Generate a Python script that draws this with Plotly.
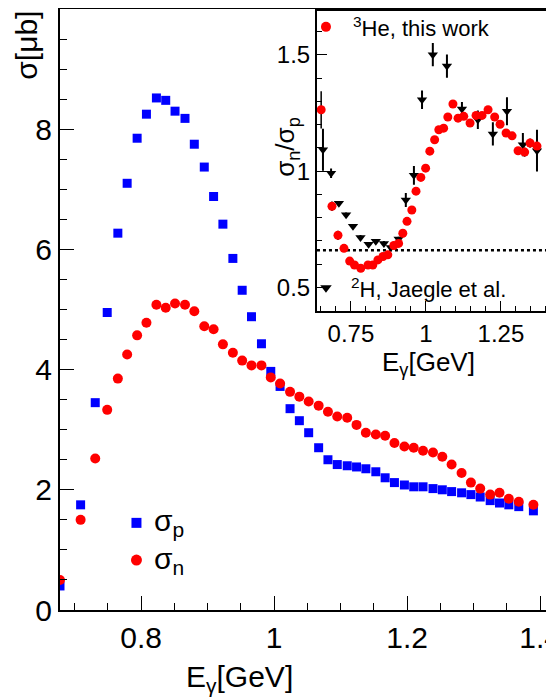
import plotly.graph_objects as go

# main panel
e_p = [0.678,0.709,0.731,0.749,0.765,0.779,0.794,0.808,0.823,0.837,0.851,0.866,0.880,0.895,0.909,0.923,0.938,0.952,0.966,0.981,0.995,1.009,1.024,1.038,1.052,1.067,1.081,1.095,1.110,1.124,1.138,1.153,1.167,1.181,1.196,1.210,1.224,1.239,1.253,1.267,1.282,1.296,1.310,1.325,1.339,1.353,1.368,1.390]
sig_p = [0.40,1.75,3.45,4.95,6.27,7.10,7.85,8.25,8.52,8.48,8.30,8.18,7.75,7.37,6.88,6.42,5.85,5.32,4.88,4.43,3.97,3.72,3.35,3.15,2.95,2.70,2.50,2.42,2.40,2.38,2.35,2.30,2.20,2.12,2.08,2.05,2.05,2.02,2.00,1.97,1.95,1.92,1.88,1.82,1.78,1.75,1.72,1.65]
sig_n = [0.50,1.50,2.52,3.33,3.85,4.25,4.57,4.78,5.08,5.03,5.10,5.08,4.97,4.72,4.67,4.42,4.28,4.15,4.07,4.07,3.87,3.77,3.63,3.55,3.47,3.40,3.30,3.22,3.20,3.08,2.95,2.92,2.90,2.78,2.72,2.70,2.65,2.62,2.55,2.42,2.28,2.12,2.02,1.92,1.95,1.85,1.80,1.75]

# inset
r_e = [0.651,0.687,0.707,0.727,0.746,0.762,0.783,0.807,0.823,0.840,0.857,0.873,0.893,0.909,0.923,0.937,0.953,0.967,0.983,0.999,1.013,1.029,1.043,1.059,1.073,1.090,1.107,1.126,1.147,1.167,1.187,1.207,1.229,1.247,1.267,1.287,1.307,1.329,1.347,1.370]
r_he = [1.264,0.849,0.724,0.668,0.613,0.596,0.582,0.596,0.596,0.618,0.633,0.640,0.680,0.689,0.733,0.784,0.833,0.914,0.973,1.013,1.086,1.135,1.178,1.185,1.233,1.289,1.228,1.236,1.207,1.240,1.240,1.264,1.233,1.202,1.164,1.152,1.088,1.082,1.121,1.108]
r_he_err = [0.08,0.02,0.02,0.01,0.01,0.01,0.01,0.01,0.01,0.01,0.01,0.01,0.01,0.01,0.01,0.01,0.01,0.01,0.01,0.01,0.01,0.01,0.01,0.01,0.01,0.01,0.01,0.01,0.01,0.01,0.01,0.01,0.01,0.01,0.01,0.01,0.01,0.02,0.02,0.02]
d_e = [0.657,0.684,0.710,0.734,0.757,0.782,0.809,0.833,0.860,0.883,0.909,0.933,0.960,0.987,1.023,1.070,1.120,1.173,1.223,1.270,1.323,1.370,1.423]
d_r = [1.092,0.991,0.862,0.812,0.763,0.715,0.685,0.698,0.689,0.672,0.708,0.876,0.982,1.307,1.501,1.452,1.268,1.221,1.160,1.258,1.114,1.088,1.100]
d_err = [0.09,0.02,0.01,0.01,0.01,0.01,0.01,0.01,0.01,0.01,0.01,0.03,0.04,0.04,0.05,0.05,0.03,0.04,0.05,0.06,0.05,0.09,0.07]
ref_line = 0.66

fig = go.Figure()
fig.add_trace(go.Scatter(x=e_p, y=sig_p, mode="markers", marker=dict(symbol="square", size=9, color="#0000ff"), xaxis="x", yaxis="y"))
fig.add_trace(go.Scatter(x=e_p, y=sig_n, mode="markers", marker=dict(symbol="circle", size=10, color="#ff0000"), xaxis="x", yaxis="y"))
fig.add_trace(go.Scatter(x=[0.793], y=[1.45], mode="markers", marker=dict(symbol="square", size=10, color="#0000ff"), xaxis="x", yaxis="y"))
fig.add_trace(go.Scatter(x=[0.793], y=[0.83], mode="markers", marker=dict(symbol="circle", size=11, color="#ff0000"), xaxis="x", yaxis="y"))

fig.add_trace(go.Scatter(x=[0.637, 1.44], y=[ref_line, ref_line], mode="lines", line=dict(color="black", dash="dot", width=2.5), xaxis="x2", yaxis="y2"))
fig.add_trace(go.Scatter(x=d_e, y=d_r, mode="markers", marker=dict(symbol="triangle-down", size=9, color="black"),
                         error_y=dict(array=d_err, color="black", thickness=2, width=0), xaxis="x2", yaxis="y2"))
fig.add_trace(go.Scatter(x=r_e, y=r_he, mode="markers", marker=dict(symbol="circle", size=9, color="#ff0000"),
                         error_y=dict(array=r_he_err, color="black", thickness=1.5, width=0), xaxis="x2", yaxis="y2"))
fig.add_trace(go.Scatter(x=[0.667], y=[1.621], mode="markers", marker=dict(symbol="circle", size=10, color="#ff0000"), xaxis="x2", yaxis="y2"))
fig.add_trace(go.Scatter(x=[0.667], y=[0.498], mode="markers", marker=dict(symbol="triangle-down", size=10, color="black"), xaxis="x2", yaxis="y2"))

ax = dict(showline=True, linecolor="black", linewidth=2, mirror=True, ticks="inside", tickcolor="black",
          showgrid=False, zeroline=False, automargin=False)
fig.update_layout(
    width=554, height=698, showlegend=False,
    margin=dict(l=52, r=4, t=1, b=96),
    paper_bgcolor="white", plot_bgcolor="white",
    font=dict(family="Liberation Sans, Arial", color="black"),
    xaxis=dict(ax, domain=[0, 1], range=[0.678, 1.427], tickvals=[0.8, 1, 1.2, 1.4], ticktext=["0.8", "1", "1.2", "1.4"],
               ticklen=14, tickfont=dict(size=30), minor=dict(dtick=0.05, ticks="inside", ticklen=7, tickcolor="black")),
    yaxis=dict(ax, domain=[0, 1], range=[0, 10.0], tickvals=[0, 2, 4, 6, 8], ticklen=14, tickfont=dict(size=30),
               minor=dict(dtick=0.5, ticks="inside", ticklen=7, tickcolor="black")),
    xaxis2=dict(ax, domain=[0.516, 1.0], anchor="y2", range=[0.637, 1.44], tickvals=[0.75, 1, 1.25], ticktext=["0.75", "1", "1.25"],
                ticklen=10, tickfont=dict(size=24), minor=dict(dtick=0.05, ticks="inside", ticklen=5, tickcolor="black")),
    yaxis2=dict(ax, domain=[0.497, 0.997], anchor="x2", range=[0.397, 1.69], tickvals=[0.5, 1, 1.5], ticktext=["0.5", "1", "1.5"],
                ticklen=10, tickfont=dict(size=24), minor=dict(dtick=0.1, ticks="inside", ticklen=5, tickcolor="black")),
)
fig.add_shape(type="rect", xref="paper", yref="paper", x0=0.516, x1=1.0, y0=0.497, y1=0.997, fillcolor="white", line=dict(width=0), layer="below")
ann = [
    dict(x=-0.105, y=1.0, text="σ[μb]", textangle=-90, xanchor="left", yanchor="top", font=dict(size=30)),
    dict(x=0.36, y=-0.08, text="E<sub>γ</sub>[GeV]", xanchor="center", yanchor="top", font=dict(size=30)),
    dict(x=0.185, y=0.145, text="σ<sub>p</sub>", xanchor="left", yanchor="middle", font=dict(size=30)),
    dict(x=0.185, y=0.082, text="σ<sub>n</sub>", xanchor="left", yanchor="middle", font=dict(size=30)),
    dict(x=0.455, y=0.77, text="σ<sub>n</sub>/σ<sub>p</sub>", textangle=-90, xanchor="center", yanchor="middle", font=dict(size=26)),
    dict(x=0.74, y=0.41, text="E<sub>γ</sub>[GeV]", xanchor="center", yanchor="middle", font=dict(size=26)),
    dict(x=0.585, y=0.970, text="<sup>3</sup>He, this work", xanchor="left", yanchor="middle", font=dict(size=22)),
    dict(x=0.58, y=0.535, text="<sup>2</sup>H, Jaegle et al.", xanchor="left", yanchor="middle", font=dict(size=22)),
]
for a in ann:
    fig.add_annotation(xref="paper", yref="paper", showarrow=False, **a)
fig.write_html("out.html")
